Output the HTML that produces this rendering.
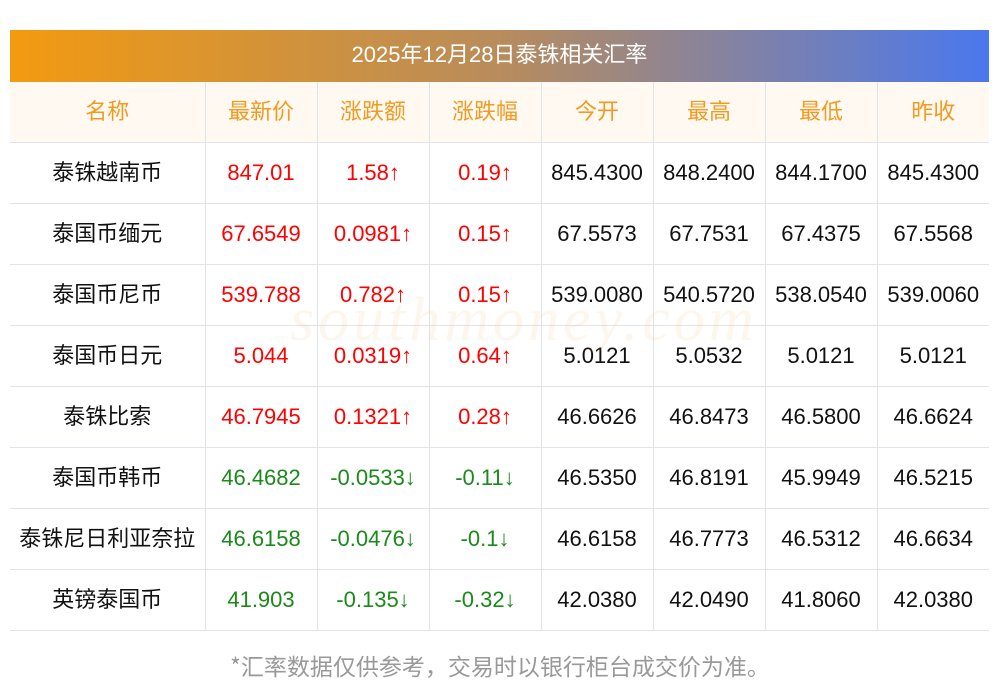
<!DOCTYPE html>
<html><head><meta charset="utf-8"><style>
body{margin:0;width:1000px;height:697px;background:#fff;font-family:"Liberation Sans","Noto Sans CJK SC",sans-serif;position:relative;overflow:hidden}
.title{position:absolute;left:10px;top:30px;width:979px;height:52px;background:linear-gradient(90deg,#f39a10,#b88c5c 50%,#4a78ee);color:#fff;font-size:22px;line-height:50px;text-align:center}
table{position:absolute;left:10px;top:82px;width:979px;border-collapse:collapse;table-layout:fixed}
td{height:60px;border:1px solid #e2e2ea;text-align:center;font-size:22px;color:#111;padding:0;line-height:26px}
td.c{font-family:"Noto Sans CJK SC",sans-serif;font-size:22px}
td.c span{position:relative;top:-2px}
tr td:first-child{border-left:none}tr td:last-child{border-right:none}
tr:first-child td{border-top:none}
tr.h td{background:#fff9f2;color:#f39a1e}
.r{color:#f00}.g{color:#1a8a1a}
.note{position:absolute;top:648px;left:0;width:1000px;text-align:center;color:#999;font-size:23px;font-family:"Noto Sans CJK SC",sans-serif}
.wm{position:absolute;left:290px;top:285px;color:rgba(240,170,80,0.10);font-size:62px;font-family:"Liberation Serif",serif;font-style:italic;letter-spacing:4px}
</style></head><body>
<div class="title">2025年12月28日泰铢相关汇率</div>
<table>
<colgroup><col style="width:195px"><col style="width:112px"><col style="width:112px"><col style="width:112px"><col style="width:112px"><col style="width:112px"><col style="width:112px"><col style="width:112px"></colgroup>
<tr class="h"><td class="c"><span>名称</span></td><td class="c"><span>最新价</span></td><td class="c"><span>涨跌额</span></td><td class="c"><span>涨跌幅</span></td><td class="c"><span>今开</span></td><td class="c"><span>最高</span></td><td class="c"><span>最低</span></td><td class="c"><span>昨收</span></td></tr>
<tr><td class="c"><span>泰铢越南币</span></td><td class="r">847.01</td><td class="r">1.58↑</td><td class="r">0.19↑</td><td>845.4300</td><td>848.2400</td><td>844.1700</td><td>845.4300</td></tr>
<tr><td class="c"><span>泰国币缅元</span></td><td class="r">67.6549</td><td class="r">0.0981↑</td><td class="r">0.15↑</td><td>67.5573</td><td>67.7531</td><td>67.4375</td><td>67.5568</td></tr>
<tr><td class="c"><span>泰国币尼币</span></td><td class="r">539.788</td><td class="r">0.782↑</td><td class="r">0.15↑</td><td>539.0080</td><td>540.5720</td><td>538.0540</td><td>539.0060</td></tr>
<tr><td class="c"><span>泰国币日元</span></td><td class="r">5.044</td><td class="r">0.0319↑</td><td class="r">0.64↑</td><td>5.0121</td><td>5.0532</td><td>5.0121</td><td>5.0121</td></tr>
<tr><td class="c"><span>泰铢比索</span></td><td class="r">46.7945</td><td class="r">0.1321↑</td><td class="r">0.28↑</td><td>46.6626</td><td>46.8473</td><td>46.5800</td><td>46.6624</td></tr>
<tr><td class="c"><span>泰国币韩币</span></td><td class="g">46.4682</td><td class="g">-0.0533↓</td><td class="g">-0.11↓</td><td>46.5350</td><td>46.8191</td><td>45.9949</td><td>46.5215</td></tr>
<tr><td class="c"><span>泰铢尼日利亚奈拉</span></td><td class="g">46.6158</td><td class="g">-0.0476↓</td><td class="g">-0.1↓</td><td>46.6158</td><td>46.7773</td><td>46.5312</td><td>46.6634</td></tr>
<tr><td class="c"><span>英镑泰国币</span></td><td class="g">41.903</td><td class="g">-0.135↓</td><td class="g">-0.32↓</td><td>42.0380</td><td>42.0490</td><td>41.8060</td><td>42.0380</td></tr>
</table>
<div class="wm">southmoney.com</div>
<div class="note">*汇率数据仅供参考，交易时以银行柜台成交价为准。</div>
</body></html>
